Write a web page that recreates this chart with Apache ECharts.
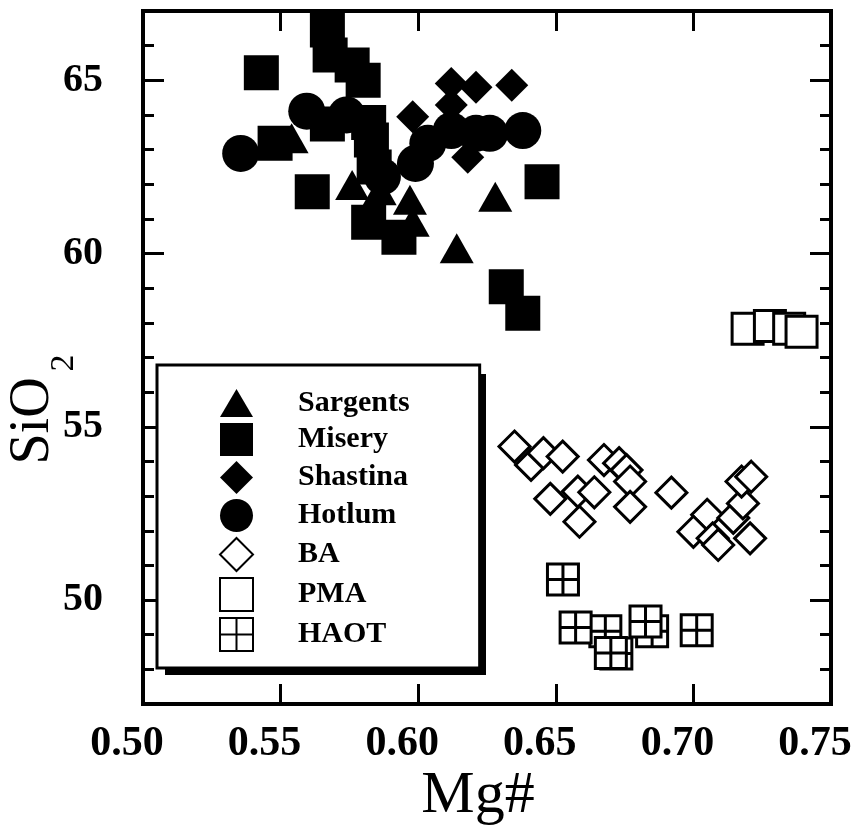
<!DOCTYPE html>
<html>
<head>
<meta charset="utf-8">
<script src="https://cdn.jsdelivr.net/npm/echarts@6/dist/echarts.min.js"></script>
<style>
  html, body { margin: 0; padding: 0; background: #fff; }
  #chart { width: 857px; height: 827px; }
</style>
</head>
<body>
<div id="chart"></div>
<script>
// Mg# vs SiO2 for the volcanic units, [Mg#, SiO2 wt%]
const sargents = [
  [0.554, 63.33], [0.576, 61.98], [0.586, 61.83], [0.597, 61.55],
  [0.598, 60.92], [0.628, 61.64], [0.614, 60.15]
];
const misery = [
  [0.543, 65.22], [0.567, 66.45], [0.568, 65.73], [0.576, 65.44], [0.580, 65.00],
  [0.567, 63.74], [0.548, 63.18], [0.582, 63.78], [0.583, 63.28], [0.584, 62.50],
  [0.5615, 61.78], [0.582, 60.90], [0.593, 60.47], [0.645, 62.07], [0.632, 59.04],
  [0.638, 58.28]
];
const shastina = [
  [0.612, 64.91], [0.621, 64.80], [0.634, 64.86], [0.612, 64.29],
  [0.598, 63.95], [0.618, 62.78]
];
const hotlum = [
  [0.5355, 62.89], [0.5595, 64.11], [0.574, 64.00], [0.587, 62.22], [0.599, 62.60],
  [0.6035, 63.18], [0.612, 63.55], [0.621, 63.47], [0.626, 63.47], [0.638, 63.55]
];
const basalticAndesite = [
  [0.635, 54.43], [0.641, 53.90], [0.6455, 54.24], [0.6525, 54.14], [0.648, 52.92],
  [0.658, 53.13], [0.664, 53.11], [0.6586, 52.26], [0.6675, 54.04], [0.673, 53.95],
  [0.6757, 53.75], [0.677, 53.42], [0.677, 52.69], [0.692, 53.10], [0.705, 52.46],
  [0.700, 51.97], [0.707, 51.78], [0.709, 51.59], [0.7145, 52.37], [0.718, 52.79],
  [0.7175, 53.42], [0.721, 53.56], [0.7206, 51.78]
];
const pma = [
  [0.7197, 57.83], [0.7278, 57.91], [0.7348, 57.83], [0.7393, 57.74]
];
const haot = [
  [0.668, 49.10], [0.672, 48.46], [0.685, 49.10],
  [0.6526, 50.59], [0.6572, 49.21], [0.670, 48.47], [0.6826, 49.38], [0.7012, 49.13]
];

const seriesNames = ['Sargents', 'Misery', 'Shastina', 'Hotlum', 'BA', 'PMA', 'HAOT'];

// axis extents and tick positions
const mgMin = 0.50, mgMax = 0.75, mgStep = 0.05;
const siMin = 47, siMax = 67;
const siMajorTicks = [50, 55, 60, 65];
const siMinorTicks = [48, 49, 51, 52, 53, 54, 56, 57, 58, 59, 61, 62, 63, 64, 66];

const serif = '"Liberation Serif", "Times New Roman", Times, serif';
const ink = '#000';

const crossSquare = 'path://M0,0 L10,0 L10,10 L0,10 Z M5,0 L5,10 M0,5 L10,5';
const trianglePath = 'path://M0,29 L17,0 L34,29 Z';

// legend box placement (the drop shadow sits behind it)
const legendBox = { x: 157, y: 365, w: 321, h: 300, shadowDx: 8, shadowDy: 9 };

const chart = echarts.init(document.getElementById('chart'), null, { renderer: 'canvas' });

function tickAxis(position, values, len) {
  return {
    type: 'value', min: siMin, max: siMax, position: position,
    axisLine: { show: false },
    splitLine: { show: false },
    axisLabel: { show: false },
    axisTick: { show: true, inside: true, length: len, customValues: values,
                lineStyle: { color: ink, width: 3 } }
  };
}

function scatter(name, data, symbol, size, filled) {
  return {
    name: name, type: 'scatter', data: data,
    xAxisIndex: 0, yAxisIndex: 0,
    symbol: symbol, symbolSize: size,
    itemStyle: filled
      ? { color: ink, opacity: 1 }
      : { color: '#fff', borderColor: ink, borderWidth: 3, opacity: 1 },
    emphasis: { disabled: true },
    silent: true
  };
}

const option = {
  animation: false,
  backgroundColor: '#fff',
  grid: {
    left: 143, right: 26, top: 11, bottom: 123,
    containLabel: false, outerBoundsMode: 'none',
    show: true, borderColor: ink, borderWidth: 4, backgroundColor: 'transparent'
  },
  graphic: [{
    type: 'rect', z: 1, silent: true,
    shape: { x: legendBox.x + legendBox.shadowDx, y: legendBox.y + legendBox.shadowDy,
             width: legendBox.w, height: legendBox.h + 1 },
    style: { fill: ink }
  }],
  xAxis: [
    {
      type: 'value', min: mgMin, max: mgMax, interval: mgStep, position: 'bottom',
      name: 'Mg#', nameLocation: 'middle', nameGap: 62, nameMoveOverlap: false,
      nameTextStyle: { fontFamily: serif, fontSize: 60, color: ink, padding: [0, 18, 0, 0] },
      axisLine: { show: false },
      splitLine: { show: false },
      axisTick: { show: true, inside: true, length: 20, lineStyle: { color: ink, width: 3 } },
      axisLabel: {
        show: true, margin: 19, showMinLabel: true, showMaxLabel: true,
        fontFamily: serif, fontWeight: 'bold', fontSize: 42, color: ink,
        padding: [0, 32, 0, 0],
        formatter: v => v.toFixed(2)
      }
    },
    {
      type: 'value', min: mgMin, max: mgMax, interval: mgStep, position: 'top',
      axisLine: { show: false },
      splitLine: { show: false },
      axisTick: { show: true, inside: true, length: 20, lineStyle: { color: ink, width: 3 } },
      axisLabel: { show: false }
    }
  ],
  yAxis: [
    {
      type: 'value', min: siMin, max: siMax, position: 'left',
      name: '{m|SiO}{s|2}', nameLocation: 'middle', nameGap: 62, nameRotate: 90,
      nameMoveOverlap: false,
      nameTextStyle: {
        color: ink, padding: [0, 104, 0, 0],
        rich: {
          m: { fontFamily: serif, fontSize: 56, color: ink },
          s: { fontFamily: serif, fontSize: 34, color: ink, padding: [62, 0, 0, 6] }
        }
      },
      axisLine: { show: false },
      splitLine: { show: false },
      axisTick: { show: true, inside: true, length: 21, customValues: siMajorTicks,
                  lineStyle: { color: ink, width: 3 } },
      axisLabel: {
        show: true, margin: 40, customValues: siMajorTicks,
        fontFamily: serif, fontWeight: 'bold', fontSize: 40, color: ink
      }
    },
    tickAxis('left', siMinorTicks, 11),
    tickAxis('right', siMajorTicks, 21),
    tickAxis('right', siMinorTicks, 11)
  ],
  legend: {
    orient: 'vertical', left: legendBox.x, top: legendBox.y, z: 5,
    padding: [23, 70, 16, 62],
    itemWidth: 33, itemHeight: 33, itemGap: 5,
    backgroundColor: '#fff', borderColor: ink, borderWidth: 3, borderRadius: 0,
    selectedMode: false,
    textStyle: { fontFamily: serif, fontWeight: 'bold', fontSize: 30, color: ink,
                 padding: [0, 0, 0, 40] },
    data: [
      { name: 'Sargents', icon: trianglePath },
      'Misery', 'Shastina', 'Hotlum', 'BA', 'PMA', 'HAOT'
    ]
  },
  series: [
    scatter(seriesNames[0], sargents, 'triangle', [34, 30], true),
    scatter(seriesNames[1], misery, 'rect', 35, true),
    scatter(seriesNames[2], shastina, 'diamond', 33, true),
    scatter(seriesNames[3], hotlum, 'circle', 37, true),
    scatter(seriesNames[4], basalticAndesite, 'diamond', 31, false),
    scatter(seriesNames[5], pma, 'rect', 31, false),
    scatter(seriesNames[6], haot, crossSquare, 31, false)
  ]
};

chart.setOption(option);
</script>
</body>
</html>
